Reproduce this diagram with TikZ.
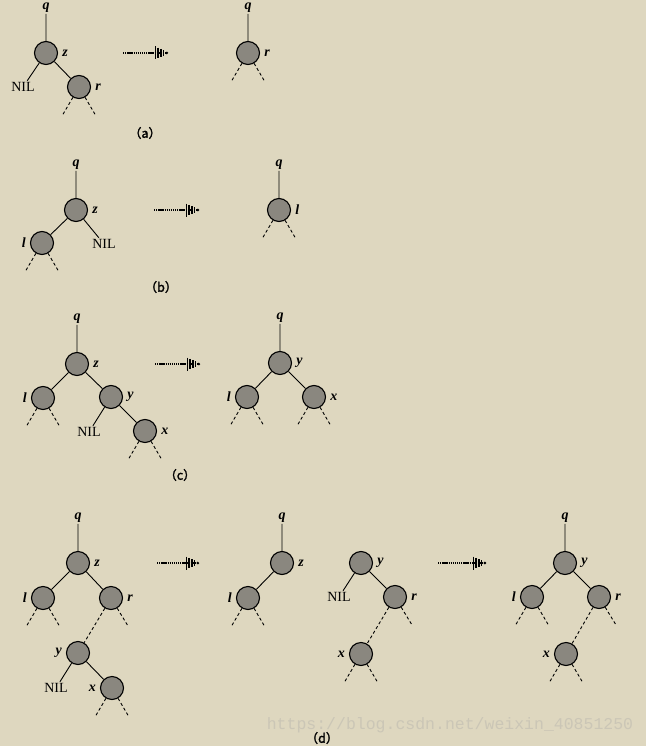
\documentclass[tikz,border=0pt]{standalone}
\usepackage{fontspec}
\setmainfont{Liberation Serif}
\newfontfamily\capfont[FakeBold=2]{Noto Sans CJK SC}
\newfontfamily\wmfont{Liberation Mono}
\usetikzlibrary{positioning,arrows.meta}

\definecolor{paper}{RGB}{222,215,191}
\definecolor{nodegray}{RGB}{138,135,127}
\definecolor{wmark}{RGB}{203,198,182}

\tikzset{
  rb/.style={circle, draw, line width=1.1pt, fill=nodegray, minimum size=23pt, inner sep=0pt},
  key/.style={font=\fontsize{14}{14}\selectfont\bfseries\itshape, inner sep=1pt},
  lab r/.style={label={[key, label distance=3pt]right:#1}},
  lab l/.style={label={[key, label distance=3pt]left:#1}},
  nil/.style={font=\fontsize{14}{14}\selectfont, inner sep=1.5pt},
  tree/.style={line width=0.9pt},
  stub/.style={line width=0.9pt, dash pattern=on 3pt off 2.5pt},
  trans/.style={line width=2.8pt, dash pattern=on 1.3pt off 0.8pt,
    -{Bar[width=13pt,line width=1.6pt,sep=1pt] Bar[width=10.5pt,line width=1.6pt,sep=1pt]
      Bar[width=8pt,line width=1.6pt,sep=1pt] Bar[width=5.5pt,line width=1.6pt,sep=1.5pt]
      Circle[length=2.4pt]}},
  caption/.style={font=\capfont\fontsize{12.5}{13}\selectfont},
  wm/.style={font=\wmfont\fontsize{16.5}{17}\selectfont, text=wmark},
}

% dashed subtrees under a node
\newcommand\stubs[1]{%
  \path (#1) ++(-17,29) coordinate (#1-sl) (#1) ++(17,29) coordinate (#1-sr);
  \draw[stub] (#1) -- (#1-sl) (#1) -- (#1-sr);}
\newcommand\rstub[1]{%
  \path (#1) ++(17,28) coordinate (#1-sr);
  \draw[stub] (#1) -- (#1-sr);}

\begin{document}
\begin{tikzpicture}[x=1pt, y=-1pt, on grid]

  \fill[paper] (0,0) rectangle (646,746);
  \useasboundingbox (0,0) rectangle (646,746);

  % (a)
  \node[rb, lab r=z]                              (z-a)   at (46,53) {};
  \node[key, above=45pt of z-a]                   (q-a)   {q};
  \node[rb, lab r=r, below right=34pt and 33pt of z-a] (r-a) {};
  \node[nil, below left=34pt and 23pt of z-a]     (nil-a) {NIL};
  \node[rb, lab r=r]                              (r-a2)  at (248,53) {};
  \node[key, above=45pt of r-a2]                  (q-a2)  {q};
  \coordinate (ta-s) at (123,53);
  \coordinate (ta-e) at (168,53);
  \node[caption]                                  (cap-a) at (145,133) {（a）};

  \draw[tree] (q-a) -- (z-a) (z-a) -- (r-a) (z-a) -- (nil-a) (q-a2) -- (r-a2);
  \stubs{r-a} \stubs{r-a2}
  \draw[trans] (ta-s) -- (ta-e);

  % (b)
  \node[rb, lab r=z]                              (z-b)   at (76,210) {};
  \node[key, above=45pt of z-b]                   (q-b)   {q};
  \node[rb, lab l=l, below left=33pt and 34pt of z-b] (l-b) {};
  \node[nil, below right=34pt and 28pt of z-b]    (nil-b) {NIL};
  \node[rb, lab r=l]                              (l-b2)  at (279,210) {};
  \node[key, above=45pt of l-b2]                  (q-b2)  {q};
  \coordinate (tb-s) at (154,210);
  \coordinate (tb-e) at (199,210);
  \node[caption]                                  (cap-b) at (161,287) {（b）};

  \draw[tree] (q-b) -- (z-b) (z-b) -- (l-b) (z-b) -- (nil-b) (q-b2) -- (l-b2);
  \stubs{l-b} \stubs{l-b2}
  \draw[trans] (tb-s) -- (tb-e);

  % (c)
  \node[rb, lab r=z]                              (z-c)   at (77,364) {};
  \node[key, above=45pt of z-c]                   (q-c)   {q};
  \node[rb, lab l=l, below left=34pt and 34pt of z-c] (l-c) {};
  \node[rb, lab r=y, below right=33pt and 34pt of z-c] (y-c) {};
  \node[nil, below left=35pt and 22pt of y-c]     (nil-c) {NIL};
  \node[rb, lab r=x, below right=34pt and 34pt of y-c] (x-c) {};
  \node[rb, lab r=y]                              (y-c2)  at (280,363) {};
  \node[key, above=45pt of y-c2]                  (q-c2)  {q};
  \node[rb, lab l=l, below left=34pt and 33pt of y-c2] (l-c2) {};
  \node[rb, lab r=x, below right=34pt and 34pt of y-c2] (x-c2) {};
  \coordinate (tc-s) at (155,364);
  \coordinate (tc-e) at (200,364);
  \node[caption]                                  (cap-c) at (180,475) {（c）};

  \draw[tree] (q-c) -- (z-c) (z-c) -- (l-c) (z-c) -- (y-c) (y-c) -- (nil-c) (y-c) -- (x-c);
  \draw[tree] (q-c2) -- (y-c2) (y-c2) -- (l-c2) (y-c2) -- (x-c2);
  \stubs{l-c} \stubs{x-c} \stubs{l-c2} \stubs{x-c2}
  \draw[trans] (tc-s) -- (tc-e);

  % (d)
  \node[rb, lab r=z]                              (z-d)   at (78,563) {};
  \node[key, above=45pt of z-d]                   (q-d)   {q};
  \node[rb, lab l=l, below left=35pt and 35pt of z-d] (l-d) {};
  \node[rb, lab r=r, below right=35pt and 33pt of z-d] (r-d) {};
  \node[rb, lab l=y, below left=55pt and 33pt of r-d] (y-d) {};
  \node[nil, below left=35pt and 22pt of y-d]     (nil-d) {NIL};
  \node[rb, lab l=x, below right=35pt and 34pt of y-d] (x-d) {};

  \node[rb, lab r=z]                              (z-d2)  at (282,563) {};
  \node[key, above=45pt of z-d2]                  (q-d2)  {q};
  \node[rb, lab l=l, below left=35pt and 34pt of z-d2] (l-d2) {};
  \node[rb, lab r=y]                              (y-d3)  at (361,563) {};
  \node[nil, below left=34pt and 22pt of y-d3]    (nil-d3) {NIL};
  \node[rb, lab r=r, below right=34pt and 34pt of y-d3] (r-d3) {};
  \node[rb, lab l=x, below left=57pt and 34pt of r-d3] (x-d3) {};

  \node[rb, lab r=y]                              (y-d4)  at (565,563) {};
  \node[key, above=45pt of y-d4]                  (q-d4)  {q};
  \node[rb, lab l=l, below left=34pt and 33pt of y-d4] (l-d4) {};
  \node[rb, lab r=r, below right=34pt and 34pt of y-d4] (r-d4) {};
  \node[rb, lab l=x, below left=57pt and 33pt of r-d4] (x-d4) {};

  \coordinate (td-s) at (157,563);
  \coordinate (td-e) at (199,563);
  \coordinate (td2-s) at (438,563);
  \coordinate (td2-e) at (486,563);

  \node[wm]                                       (wm)    at (450,725) {https://blog.csdn.net/weixin\_40851250};
  \node[caption]                                  (cap-d) at (322,738) {（d）};

  \draw[tree] (q-d) -- (z-d) (z-d) -- (l-d) (z-d) -- (r-d) (y-d) -- (nil-d) (y-d) -- (x-d);
  \draw[stub] (r-d) -- (y-d);
  \draw[tree] (q-d2) -- (z-d2) (z-d2) -- (l-d2) (y-d3) -- (nil-d3) (y-d3) -- (r-d3);
  \draw[stub] (r-d3) -- (x-d3);
  \draw[tree] (q-d4) -- (y-d4) (y-d4) -- (l-d4) (y-d4) -- (r-d4);
  \draw[stub] (r-d4) -- (x-d4);
  \stubs{l-d} \stubs{x-d} \rstub{r-d}
  \stubs{l-d2} \stubs{x-d3} \rstub{r-d3}
  \stubs{l-d4} \stubs{x-d4} \rstub{r-d4}
  \draw[trans] (td-s) -- (td-e);
  \draw[trans] (td2-s) -- (td2-e);

\end{tikzpicture}
\end{document}
